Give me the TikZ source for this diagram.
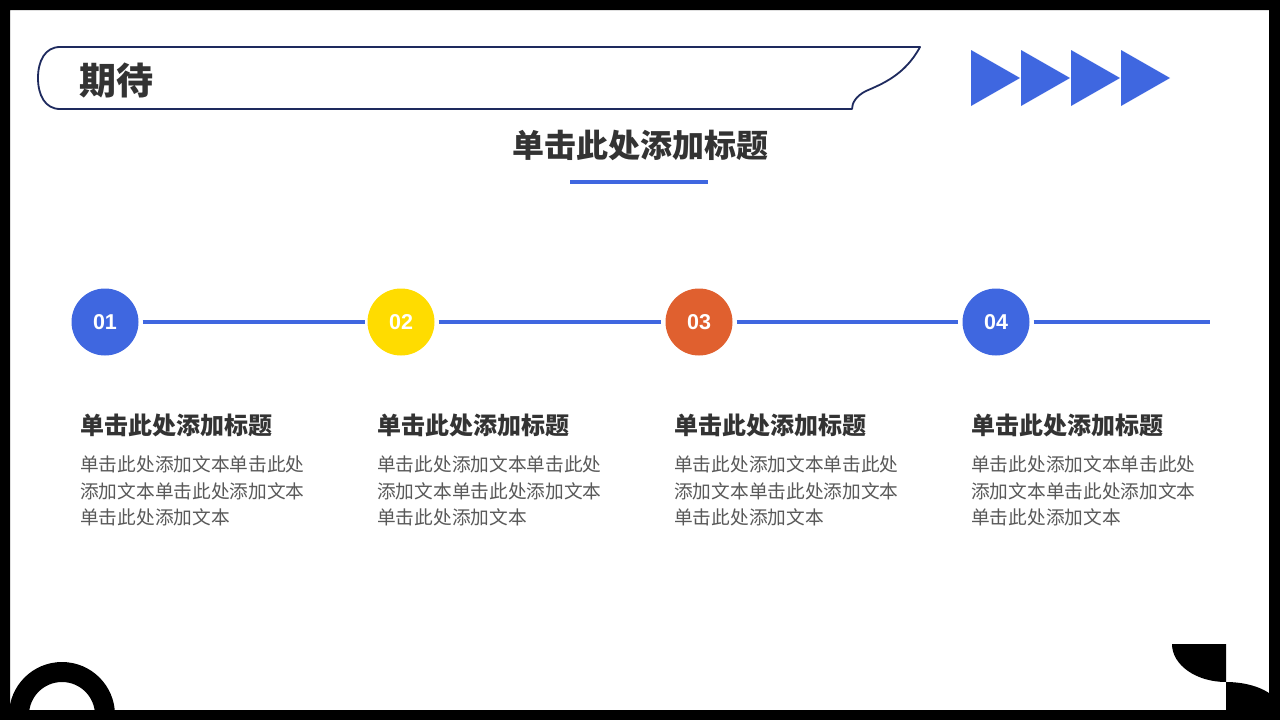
\documentclass[tikz,border=0pt]{standalone}
\usepackage{fontspec}
\setmainfont{Liberation Sans}
\newfontfamily\cjk{Noto Sans CJK SC}
\definecolor{mblue}{HTML}{3F67E0}
\definecolor{myellow}{HTML}{FFDC00}
\definecolor{morange}{HTML}{E0602F}
\definecolor{navy}{HTML}{1E2A5E}
\definecolor{tdark}{HTML}{333333}
\definecolor{tbody}{HTML}{595959}
\tikzset{
  px/.style={x=1pt,y=-1pt},
  numcirc/.style={circle,minimum size=67pt,inner sep=0pt,text=white,font=\bfseries\fontsize{21.5}{24}\selectfont},
  conn/.style={draw=mblue,line width=4pt},
  headtxt/.style={anchor=base west,inner sep=0pt,text=tdark,font=\cjk\bfseries\fontsize{24}{28}\selectfont},
  bodytxt/.style={anchor=base west,inner sep=0pt,text=tbody,font=\cjk\fontsize{18.7}{22}\selectfont},
  tri/.style={fill=mblue}
}
\begin{document}
\begin{tikzpicture}[px]
\useasboundingbox (0,0) rectangle (1280,720);
\fill[white] (0,0) rectangle (1280,720);
% bottom-left ring
\fill[black,even odd rule] (62,715) circle[radius=53] (62,715) circle[radius=33];
% bottom-right shapes
\fill[black] (1172,644) -- (1226,644) -- (1226,682) arc[start angle=270,end angle=180,x radius=54,y radius=-38] -- cycle;
\fill[black] (1226,682) arc[start angle=90,end angle=0,x radius=54,y radius=-28] -- (1280,720) -- (1226,720) -- cycle;
% frame
\fill[black,even odd rule] (0,0) rectangle (1280,720) (10,10) rectangle (1269,710);
% header tab
\draw[navy,line width=1.8pt,line join=round]
  (60,47) -- (920,47)
  .. controls (905,75) and (882,84) .. (866,91)
  .. controls (856,96) and (852,103) .. (852,109)
  -- (60,109)
  .. controls (45,109) and (38,95) .. (38,78)
  .. controls (38,61) and (45,47) .. (60,47) -- cycle;
\node[anchor=base west,inner sep=0pt,text=tdark,font=\cjk\bfseries\fontsize{37}{40}\selectfont] (tab) at (79,94) {期待};
% triangles
\foreach \i in {0,1,2,3}{
  \fill[tri] (971+50*\i,50) -- (1020+50*\i,78) -- (971+50*\i,106) -- cycle;
}
% title
\node[anchor=base,inner sep=0pt,text=tdark,font=\cjk\bfseries\fontsize{32}{36}\selectfont] (title) at (640,157) {单击此处添加标题};
\fill[mblue] (570,180) rectangle (708,184);
% circles
\node[numcirc,fill=mblue] (c1) at (105,322) {01};
\node[numcirc,fill=myellow] (c2) at (401,322) {02};
\node[numcirc,fill=morange] (c3) at (699,322) {03};
\node[numcirc,fill=mblue] (c4) at (996,322) {04};
\coordinate (e) at (1210,322);
\draw[conn] ([xshift=4pt]c1.east) -- ([xshift=-2pt]c2.west);
\draw[conn] ([xshift=4pt]c2.east) -- ([xshift=-4pt]c3.west);
\draw[conn] ([xshift=4pt]c3.east) -- ([xshift=-4pt]c4.west);
\draw[conn] ([xshift=4pt]c4.east) -- (e);
% texts
\foreach \x/\n in {80/1,377/2,674/3,971/4}{
  \node[headtxt] (h\n) at (\x,434) {单击此处添加标题};
  \node[bodytxt] (b\n a) at (\x,471) {单击此处添加文本单击此处};
  \node[bodytxt] (b\n b) at (\x,498) {添加文本单击此处添加文本};
  \node[bodytxt] (b\n c) at (\x,524) {单击此处添加文本};
}
\end{tikzpicture}
\end{document}
